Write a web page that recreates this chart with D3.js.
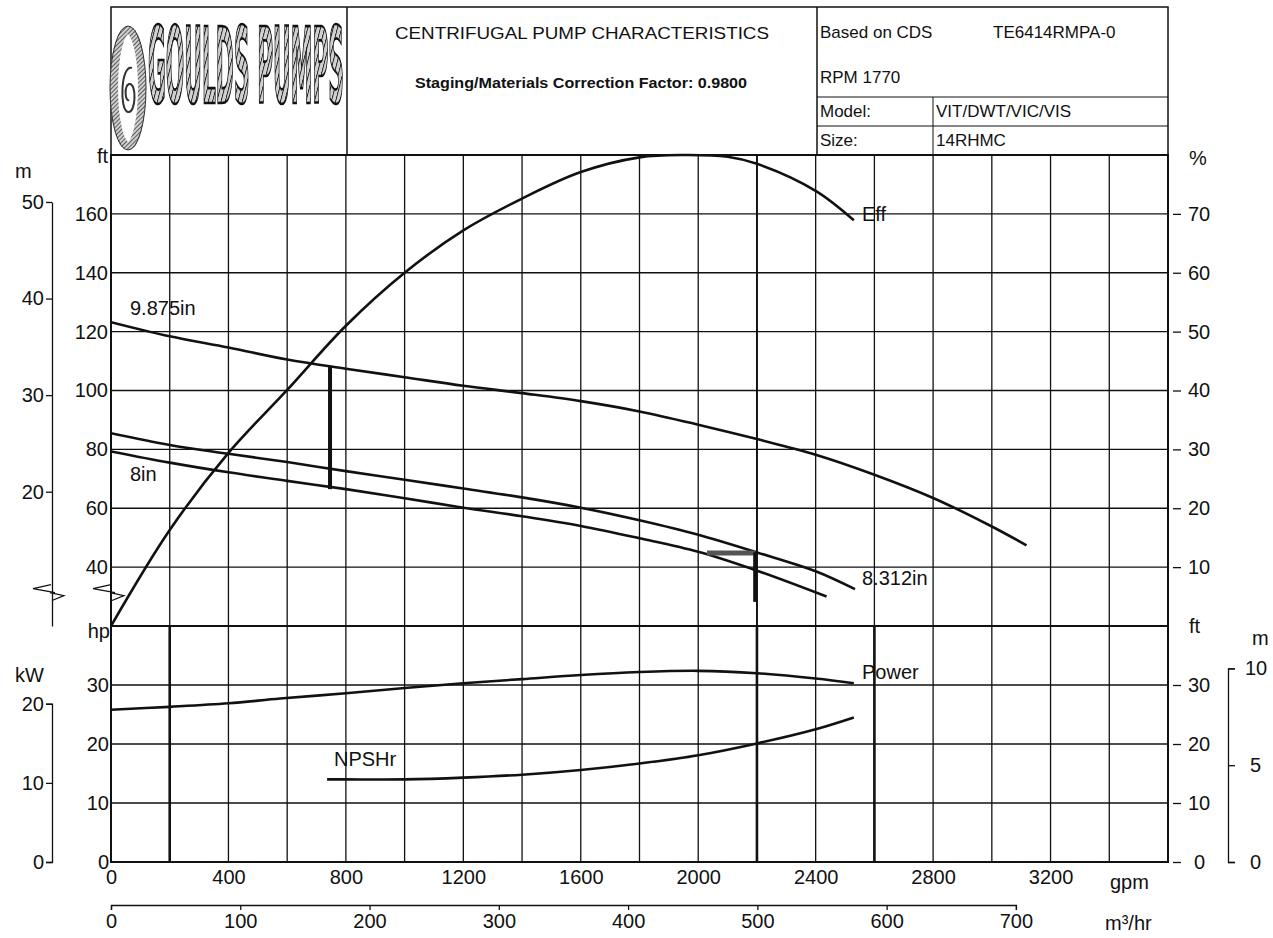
<!DOCTYPE html>
<html lang="en">
<head>
    <meta charset="UTF-8">
    <title>Centrifugal Pump Characteristics</title>
    <style>
        body { margin: 0; background: #fff; font-family: "Liberation Sans", Arial, sans-serif; }
        svg text { font-family: "Liberation Sans", Arial, sans-serif; fill: #111; }
        .axis path, .axis line { stroke: #111; stroke-width: 1.3; }
        .axis text { font-size: 20px; }
        .curve { fill: none; stroke: #111; stroke-width: 2.6; }
    </style>
</head>
<body>
<div id="chart"></div>
<script src="https://d3js.org/d3.v7.min.js"></script>
<script>
// ---- data ----
const headGpm9875 = [0, 200, 400, 600, 800, 1000, 1200, 1400, 1600, 1800, 2000, 2200, 2400, 2600, 2800, 3000, 3118];
const headFt9875  = [123.2, 118.4, 114.6, 110.5, 107.4, 104.5, 101.6, 99.1, 96.4, 92.9, 88.4, 83.5, 78.2, 71.4, 63.5, 53.8, 47.4];

const headGpm8312 = [0, 200, 400, 600, 800, 1000, 1200, 1400, 1600, 1800, 2000, 2200, 2400, 2534];
const headFt8312  = [85.5, 81.5, 78.5, 75.7, 72.6, 69.7, 66.7, 63.7, 60.2, 55.9, 51.0, 45.0, 38.6, 32.5];

const headGpm8 = [0, 200, 400, 600, 800, 1000, 1200, 1400, 1600, 1800, 2000, 2200, 2437];
const headFt8  = [79.3, 75.5, 72.2, 69.3, 66.5, 63.4, 60.2, 57.3, 54.0, 49.8, 45.2, 38.8, 30.0];

const effGpm = [0, 200, 400, 600, 800, 1000, 1200, 1400, 1600, 1800, 1950, 2100, 2200, 2400, 2530];
const effPct = [0, 16.3, 29.4, 40.1, 51.0, 60.0, 67.2, 72.6, 77.1, 79.6, 80.0, 79.7, 78.5, 73.9, 68.9];

const powerGpm = [0, 200, 400, 576, 800, 1000, 1200, 1400, 1600, 1800, 2000, 2200, 2400, 2530];
const powerHp  = [25.8, 26.3, 26.9, 27.7, 28.6, 29.5, 30.3, 31.0, 31.7, 32.2, 32.4, 32.0, 31.1, 30.3];

const npshGpm = [736, 800, 1000, 1200, 1400, 1600, 1800, 2000, 2200, 2400, 2530];
const npshFt  = [14.0, 14.0, 14.0, 14.3, 14.8, 15.6, 16.7, 18.1, 20.1, 22.5, 24.5];

// operating markers: min flow bar and duty point
const minFlowGpm = 746, minFlowFt = [108, 66.5];
const dutyGpm = 2194, dutyFt = [45, 28.2], dutyBarGpm = [2030, 2194], dutyBarFt = 44.8;

const gpmTicks = [0, 400, 800, 1200, 1600, 2000, 2400, 2800, 3200];
const m3hTicks = [0, 100, 200, 300, 400, 500, 600, 700];
const ftTicks = [40, 60, 80, 100, 120, 140, 160];
const pctTicks = [10, 20, 30, 40, 50, 60, 70];
const mHeadTicks = [20, 30, 40, 50];
const hpTicks = [0, 10, 20, 30];
const kwTicks = [0, 10, 20];
const npshFtTicks = [0, 10, 20, 30];
const npshMTicks = [0, 5, 10];

const FT_PER_M = 3.28084, GPM_PER_M3H = 4.40287, KW_PER_HP = 0.7457;

// ---- layout ----
const width = 1273, height = 938;
const pLeft = 111, pRight = 1168, pTop = 155, pMid = 626, pBottom = 862, headTop = 7;
const plain = d => String(d);

const svg = d3.select("#chart").append("svg")
    .attr("width", width).attr("height", height);

const x = d3.scaleLinear().domain([0, 3600]).range([pLeft, pRight]);
const yFt = d3.scaleLinear().domain([20, 180]).range([pMid, pTop]);
const yPct = d3.scaleLinear().domain([0, 80]).range([pMid, pTop]);
const yHp = d3.scaleLinear().domain([0, 40]).range([pBottom, pMid]);

// ---- grid ----
const grid = svg.append("g").attr("stroke", "#111").attr("stroke-width", 1.3);
d3.range(200, 3600, 200).forEach(g => {
    grid.append("line").attr("x1", x(g)).attr("x2", x(g)).attr("y1", pTop).attr("y2", pBottom);
});
[200, 2200, 2600].forEach(g => {
    grid.append("line").attr("x1", x(g)).attr("x2", x(g)).attr("y1", pMid).attr("y2", pBottom).attr("stroke-width", 2.6);
});
grid.append("line").attr("x1", x(2200)).attr("x2", x(2200)).attr("y1", pTop).attr("y2", pMid).attr("stroke-width", 1.9);
d3.range(40, 180, 20).forEach(v => {
    grid.append("line").attr("x1", pLeft).attr("x2", pRight).attr("y1", yFt(v)).attr("y2", yFt(v));
});
d3.range(10, 40, 10).forEach(v => {
    grid.append("line").attr("x1", pLeft).attr("x2", pRight).attr("y1", yHp(v)).attr("y2", yHp(v));
});

// panel borders
const frame = svg.append("g").attr("stroke", "#111").attr("stroke-width", 2).attr("fill", "none");
frame.append("rect").attr("x", pLeft).attr("y", pTop).attr("width", pRight - pLeft).attr("height", pBottom - pTop);
frame.append("line").attr("x1", pLeft).attr("x2", pRight).attr("y1", pMid).attr("y2", pMid);

// ---- header block ----
const defs = svg.append("defs");
const hatch = defs.append("pattern").attr("id", "hatch").attr("patternUnits", "userSpaceOnUse")
    .attr("width", 3).attr("height", 3).attr("patternTransform", "rotate(45)");
hatch.append("rect").attr("width", 3).attr("height", 3).attr("fill", "#d0d0d0");
hatch.append("line").attr("x1", 0).attr("y1", 0).attr("x2", 0).attr("y2", 3).attr("stroke", "#333").attr("stroke-width", 1.5);

const head = svg.append("g").attr("stroke", "#111").attr("stroke-width", 1.5).attr("fill", "none");
head.append("rect").attr("x", pLeft).attr("y", headTop).attr("width", pRight - pLeft).attr("height", pTop - headTop);
head.append("line").attr("x1", 347).attr("x2", 347).attr("y1", headTop).attr("y2", pTop);
head.append("line").attr("x1", 817).attr("x2", 817).attr("y1", headTop).attr("y2", pTop);
head.append("line").attr("x1", 817).attr("x2", pRight).attr("y1", 97).attr("y2", 97).attr("stroke-width", 1);
head.append("line").attr("x1", 817).attr("x2", pRight).attr("y1", 126).attr("y2", 126).attr("stroke-width", 1);
head.append("line").attr("x1", 933).attr("x2", 933).attr("y1", 97).attr("y2", pTop).attr("stroke-width", 1);

// logo
const logo = svg.append("g");
logo.append("ellipse").attr("cx", 128).attr("cy", 88).attr("rx", 14).attr("ry", 58)
    .attr("fill", "none").attr("stroke", "url(#hatch)").attr("stroke-width", 8);
logo.append("ellipse").attr("cx", 128).attr("cy", 88).attr("rx", 18).attr("ry", 62)
    .attr("fill", "none").attr("stroke", "#333").attr("stroke-width", 1);
logo.append("path")
    .attr("d", "M132,68 C121,64 119,110 128,112 C136,114 137,82 129,84 C124,86 125,102 129,100")
    .attr("fill", "none").attr("stroke", "#333").attr("stroke-width", 2);
logo.append("g").attr("transform", "translate(148,103) scale(1,3.9)")
    .append("text").attr("x", 0).attr("y", 0)
    .attr("textLength", 196).attr("lengthAdjust", "spacingAndGlyphs")
    .style("font-family", "'Liberation Sans Narrow', 'DejaVu Sans Condensed', sans-serif")
    .style("font-size", "27px").style("font-weight", "bold").style("font-style", "normal")
    .style("fill", "url(#hatch)").style("stroke", "#111").style("stroke-width", 0.7)
    .text("GOULDS PUMPS");

svg.append("text").attr("x", 582).attr("y", 39).attr("text-anchor", "middle")
    .attr("textLength", 374).attr("lengthAdjust", "spacingAndGlyphs")
    .style("font-size", "17px").text("CENTRIFUGAL PUMP CHARACTERISTICS");
svg.append("text").attr("x", 581).attr("y", 88).attr("text-anchor", "middle")
    .attr("textLength", 332).attr("lengthAdjust", "spacingAndGlyphs")
    .style("font-size", "14px").style("font-weight", "bold")
    .text("Staging/Materials Correction Factor: 0.9800");

const info = [
    ["Based on CDS", 820, 38], ["TE6414RMPA-0", 993, 38], ["RPM  1770", 820, 83],
    ["Model:", 820, 117], ["VIT/DWT/VIC/VIS", 936, 117], ["Size:", 820, 146], ["14RHMC", 936, 146]
];
svg.append("g").selectAll("text").data(info).join("text")
    .attr("x", d => d[1]).attr("y", d => d[2])
    .style("font-size", "17px")
    .text(d => d[0]);

// ---- axes ----
const axFt = svg.append("g").attr("class", "axis").attr("transform", `translate(${pLeft},0)`)
    .call(d3.axisLeft(yFt).tickValues(ftTicks).tickFormat(plain).tickSize(0).tickPadding(3));
axFt.select(".domain").remove();

const axHp = svg.append("g").attr("class", "axis").attr("transform", `translate(${pLeft},0)`)
    .call(d3.axisLeft(yHp).tickValues(hpTicks).tickFormat(plain).tickSize(0).tickPadding(2));
axHp.select(".domain").remove();

const yMHead = d3.scaleLinear().domain([20 / FT_PER_M, 50]).range([pMid, yFt(50 * FT_PER_M)]);
svg.append("g").attr("class", "axis").attr("transform", "translate(52,0)")
    .call(d3.axisLeft(yMHead).tickValues(mHeadTicks).tickFormat(plain).tickSize(6).tickSizeOuter(0).tickPadding(2));

const yKw = d3.scaleLinear().domain([0, 20]).range([pBottom, yHp(20 / KW_PER_HP)]);
svg.append("g").attr("class", "axis").attr("transform", "translate(52,0)")
    .call(d3.axisLeft(yKw).tickValues(kwTicks).tickFormat(plain).tickSize(6).tickPadding(2));

const axPct = svg.append("g").attr("class", "axis").attr("transform", `translate(${pRight},0)`)
    .call(d3.axisRight(yPct).tickValues(pctTicks).tickFormat(plain).tickSize(13).tickPadding(7));
axPct.select(".domain").remove();
axPct.selectAll(".tick line").attr("x1", 5);

const axNpsh = svg.append("g").attr("class", "axis").attr("transform", `translate(${pRight},0)`)
    .call(d3.axisRight(yHp).tickValues(npshFtTicks).tickFormat(plain).tickSize(13).tickPadding(7));
axNpsh.select(".domain").remove();
axNpsh.selectAll(".tick line").attr("x1", 5);
axNpsh.selectAll(".tick text").attr("dx", d => d === 0 ? 6 : 0);

const yNpshM = d3.scaleLinear().domain([0, 10]).range([pBottom, yHp(10 * FT_PER_M)]);
const axNm = svg.append("g").attr("class", "axis").attr("transform", "translate(1228,0)")
    .call(d3.axisRight(yNpshM).tickValues(npshMTicks).tickFormat(plain).tickSize(7).tickPadding(10));
axNm.selectAll(".tick text").attr("dx", d => d === 10 ? 0 : 5);

const axGpm = svg.append("g").attr("class", "axis").attr("transform", `translate(0,${pBottom})`)
    .call(d3.axisBottom(x).tickValues(gpmTicks).tickFormat(plain).tickSize(0).tickPadding(8));
axGpm.select(".domain").remove();

const xM3 = d3.scaleLinear().domain([0, 700]).range([pLeft, x(700 * GPM_PER_M3H)]);
svg.append("g").attr("class", "axis").attr("transform", "translate(0,905)")
    .call(d3.axisBottom(xM3).tickValues(m3hTicks).tickFormat(plain).tickSize(5).tickPadding(4));

// unit labels
const units = [
    ["m", 15, 178, "start"], ["ft", 108, 163, "end"], ["hp", 110, 638, "end"], ["kW", 15, 682, "start"],
    ["%", 1189, 165, "start"], ["ft", 1189, 633, "start"], ["m", 1252, 645, "start"],
    ["gpm", 1110, 889, "start"], ["m\u00b3/hr", 1105, 930, "start"]
];
svg.append("g").selectAll("text").data(units).join("text")
    .attr("x", d => d[1]).attr("y", d => d[2]).attr("text-anchor", d => d[3])
    .style("font-size", "20px").text(d => d[0]);

// axis break marks
const brk = svg.append("g").attr("fill", "none").attr("stroke", "#111").attr("stroke-width", 1.2);
[33, 93].forEach(bx => {
    const by = yFt(30);
    brk.append("path").attr("d", `M${bx + 18},${by - 12} L${bx},${by - 8} L${bx + 22},${by - 4}`);
    brk.append("path").attr("d", `M${bx + 17},${by - 4} L${bx + 31},${by - 1} L${bx + 19},${by + 4}`);
});

// ---- curves ----
const clip = defs.append("clipPath").attr("id", "plot");
clip.append("rect").attr("x", pLeft).attr("y", pTop - 2).attr("width", pRight - pLeft).attr("height", pBottom - pTop + 2);
const plot = svg.append("g").attr("clip-path", "url(#plot)");

function drawCurve(xs, ys, yScale) {
    const pts = xs.map((g, i) => [g, ys[i]]);
    plot.append("path").attr("class", "curve")
        .attr("d", d3.line().x(d => x(d[0])).y(d => yScale(d[1])).curve(d3.curveCatmullRom.alpha(0.5))(pts));
}
drawCurve(headGpm9875, headFt9875, yFt);
drawCurve(headGpm8312, headFt8312, yFt);
drawCurve(headGpm8, headFt8, yFt);
drawCurve(effGpm, effPct, yPct);
drawCurve(powerGpm, powerHp, yHp);
drawCurve(npshGpm, npshFt, yHp);

// markers
plot.append("line").attr("x1", x(minFlowGpm)).attr("x2", x(minFlowGpm))
    .attr("y1", yFt(minFlowFt[0])).attr("y2", yFt(minFlowFt[1]))
    .attr("stroke", "#111").attr("stroke-width", 4);
plot.append("line").attr("x1", x(dutyBarGpm[0])).attr("x2", x(dutyBarGpm[1]))
    .attr("y1", yFt(dutyBarFt)).attr("y2", yFt(dutyBarFt))
    .attr("stroke", "#555").attr("stroke-width", 5);
plot.append("line").attr("x1", x(dutyGpm)).attr("x2", x(dutyGpm))
    .attr("y1", yFt(dutyFt[0])).attr("y2", yFt(dutyFt[1]))
    .attr("stroke", "#111").attr("stroke-width", 4);

// curve labels
const labels = [
    ["9.875in", 130, 315], ["8in", 130, 481], ["8.312in", 862, 585],
    ["Eff", 862, 221], ["Power", 862, 679], ["NPSHr", 334, 766]
];
svg.append("g").selectAll("text").data(labels).join("text")
    .attr("x", d => d[1]).attr("y", d => d[2])
    .style("font-size", "20px").text(d => d[0]);
</script>
</body>
</html>
